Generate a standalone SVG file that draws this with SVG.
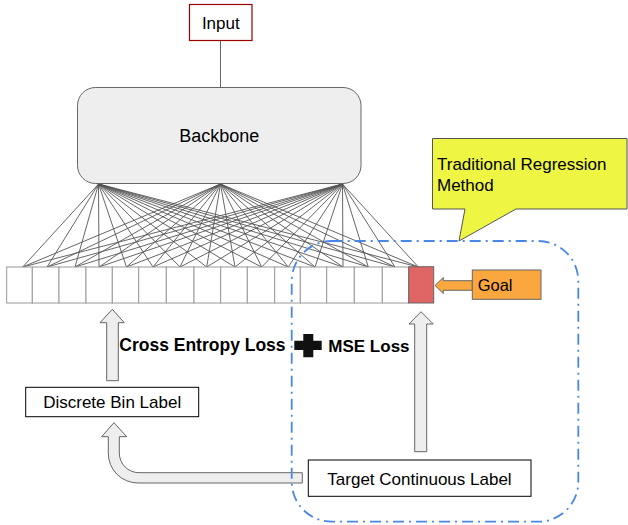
<svg xmlns="http://www.w3.org/2000/svg" width="628" height="525" viewBox="0 0 628 525">
<style>
text{font-family:"Liberation Sans",Arial,sans-serif;font-size:17px;fill:#000}
.box{fill:#fff;stroke:#000;stroke-width:1}
.cell{fill:#fff;stroke:#999;stroke-width:1}
.barrow{fill:#eeeeee;stroke:#666;stroke-width:1}
.fan{fill:none;stroke:#555;stroke-width:0.9}
.bold{font-weight:bold}
</style>
<rect width="628" height="525" fill="#fff"/>

<g id="callout">
<path d="M432.5 138.5 H627 V209 H516 L459 241 L465 209 H432.5 Z" fill="#eef542" stroke="#555" stroke-width="1"/>
<text x="437" y="169.5">Traditional Regression</text>
<text x="437" y="191">Method</text>
</g>

<g id="connectors">
<line x1="220.5" y1="40" x2="220.5" y2="87.5" stroke="#666" stroke-width="1"/>
<path class="fan" d="M98.5 184 L22.7 267 M98.5 184 L47 267 M98.5 184 L75 267 M98.5 184 L99 267 M98.5 184 L126.5 267 M98.5 184 L153 267 M98.5 184 L180 267 M98.5 184 L206.7 267 M98.5 184 L235 267 M98.5 184 L261.7 267 M98.5 184 L288.3 267 M98.5 184 L315 267 M98.5 184 L343 267 M98.5 184 L368.3 267 M98.5 184 L395 267 M98.5 184 L418.3 267
M220.5 184 L22.7 267 M220.5 184 L47 267 M220.5 184 L75 267 M220.5 184 L99 267 M220.5 184 L126.5 267 M220.5 184 L153 267 M220.5 184 L180 267 M220.5 184 L206.7 267 M220.5 184 L235 267 M220.5 184 L261.7 267 M220.5 184 L288.3 267 M220.5 184 L315 267 M220.5 184 L343 267 M220.5 184 L368.3 267 M220.5 184 L395 267 M220.5 184 L418.3 267
M342.5 184 L22.7 267 M342.5 184 L47 267 M342.5 184 L75 267 M342.5 184 L99 267 M342.5 184 L126.5 267 M342.5 184 L153 267 M342.5 184 L180 267 M342.5 184 L206.7 267 M342.5 184 L235 267 M342.5 184 L261.7 267 M342.5 184 L288.3 267 M342.5 184 L315 267 M342.5 184 L343 267 M342.5 184 L368.3 267 M342.5 184 L395 267 M342.5 184 L418.3 267"/>
<path class="barrow" d="M106.7 380.7 V322.7 H100 L112.3 309.3 L124.3 322.7 H118.3 V380.7 Z"/>
<path class="barrow" d="M414.7 451.7 V324 H409 L421 311.7 L433.3 324 H426.7 V451.7 Z"/>
<path class="barrow" d="M302.3 483 H138 A29.7 29.7 0 0 1 108.3 453.3 V436.7 H101.7 L114 422.7 L126.7 436.7 H119.3 V453 A19.7 19.7 0 0 0 139 472.7 H302.3 Z"/>
<path d="M472.3 280.7 H443.3 V277.5 L435 285.5 L443.3 293.5 V290.3 H472.3 Z" fill="#f9a73e" stroke="#666" stroke-width="1"/>
</g>

<g id="input">
<rect x="189.5" y="4.5" width="62.5" height="36" fill="#fff" stroke="#990000" stroke-width="1.2"/>
<text x="220.8" y="29.3" text-anchor="middle">Input</text>
</g>

<g id="backbone">
<rect x="77.5" y="87.5" width="283.5" height="96" rx="18" fill="#eeeeee" stroke="#666" stroke-width="1"/>
<text x="219.3" y="142.3" text-anchor="middle" style="font-size:18px">Backbone</text>
</g>

<g id="bins">
<rect class="cell" x="6.7" y="267" width="25.6" height="36"/>
<rect class="cell" x="32.3" y="267" width="26.7" height="36"/>
<rect class="cell" x="59" y="267" width="27" height="36"/>
<rect class="cell" x="86" y="267" width="26.3" height="36"/>
<rect class="cell" x="112.3" y="267" width="26.4" height="36"/>
<rect class="cell" x="138.7" y="267" width="27.6" height="36"/>
<rect class="cell" x="166.3" y="267" width="27.7" height="36"/>
<rect class="cell" x="194" y="267" width="26.7" height="36"/>
<rect class="cell" x="220.7" y="267" width="26.6" height="36"/>
<rect class="cell" x="247.3" y="267" width="27.4" height="36"/>
<rect class="cell" x="274.7" y="267" width="25.6" height="36"/>
<rect class="cell" x="300.3" y="267" width="26.4" height="36"/>
<rect class="cell" x="326.7" y="267" width="27.6" height="36"/>
<rect class="cell" x="354.3" y="267" width="28" height="36"/>
<rect class="cell" x="382.3" y="267" width="26.4" height="36"/>
</g>

<g id="goal-bin">
<rect x="408.7" y="266.7" width="25" height="36.3" fill="#e06666" stroke="#666" stroke-width="1"/>
</g>

<g id="goal">
<rect x="472.3" y="270" width="68.7" height="29.3" fill="#f9a73e" stroke="#666" stroke-width="1"/>
<text x="477.7" y="291" style="font-size:16.5px">Goal</text>
</g>

<g id="region">
<rect x="291.7" y="241" width="286.6" height="280.7" rx="40" fill="none" stroke="#4a86e8" stroke-width="1.8" stroke-dasharray="11 5 2 5"/>
</g>

<g id="losses">
<text class="bold" x="119.3" y="350.7" style="font-size:17.5px">Cross Entropy Loss</text>
<path d="M303.3 334 H313.3 V340.7 H321.7 V350 H313.3 V357.3 H303.3 V350 H294.3 V340.7 H303.3 Z" fill="#111"/>
<text class="bold" x="328.3" y="352.3">MSE Loss</text>
</g>

<g id="discrete">
<rect class="box" x="25.7" y="387.3" width="173" height="29.4"/>
<text x="112.2" y="407.7" text-anchor="middle">Discrete Bin Label</text>
</g>

<g id="target">
<rect class="box" x="308.3" y="460" width="222.7" height="36.3" stroke="#555"/>
<text x="419.5" y="485" text-anchor="middle">Target Continuous Label</text>
</g>
</svg>
